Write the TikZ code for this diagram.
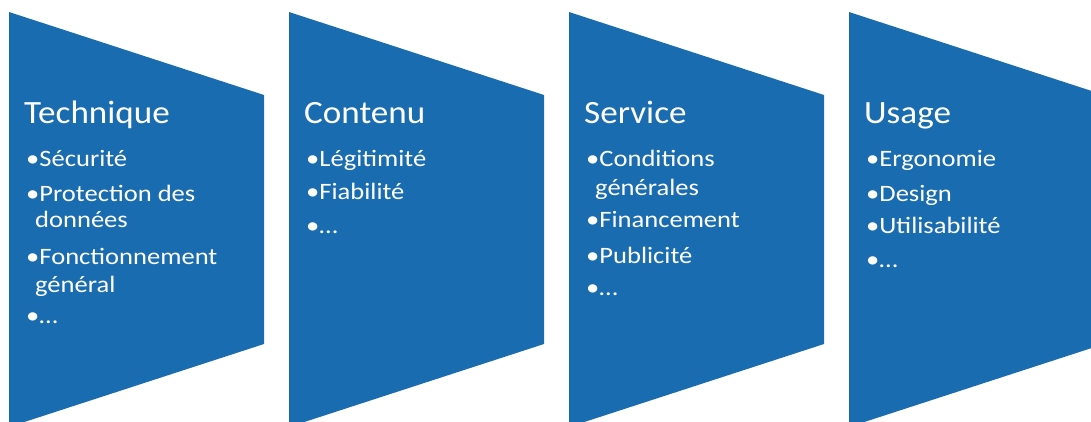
\documentclass[tikz,border=0pt]{standalone}
\usepackage{fontspec}
\setmainfont{Carlito}
\newfontfamily\ttlfont[FakeStretch=1.08]{Carlito}
\newfontfamily\itmfont[FakeStretch=1.13]{Carlito}
\definecolor{chevblue}{RGB}{26,108,176}
\tikzset{
  chev/.style={fill=chevblue, draw=none},
  ttl/.style={anchor=base west, inner sep=0pt, text=white, font=\ttlfont\fontsize{32.5}{38}\selectfont},
  itm/.style={anchor=base west, inner sep=0pt, text=white, font=\itmfont\fontsize{23.5}{28}\selectfont},
}
\begin{document}
\begin{tikzpicture}[x=1pt,y=-1pt]
\useasboundingbox (0,0) rectangle (1091,422);
\begin{scope}
\clip (0,0) rectangle (1091,422);
\foreach \i/\ox in {1/0,2/280,3/560,4/840}{
  \fill[chev] (9+\ox,12) -- (264+\ox,95) -- (264+\ox,344) -- (9+\ox,427) -- cycle;
}
\end{scope}
% Column 1
\node[ttl] (t1) at (24,124) {Technique};
\node[itm] (a1) at (26,167) {•Sécurité};
\node[itm] (a2) at (26,201) {•Protection des};
\node[itm] (a2b) at (35,227) {données};
\node[itm] (a3) at (26,264) {•Fonctionnement};
\node[itm] (a3b) at (35,292) {général};
\node[itm] (a4) at (26,323) {•…};
% Column 2
\node[ttl] (t2) at (304,124) {Contenu};
\node[itm] (b1) at (306,167) {•Légitimité};
\node[itm] (b2) at (306,200) {•Fiabilité};
\node[itm] (b3) at (306,233) {•…};
% Column 3
\node[ttl] (t3) at (584,124) {Service};
\node[itm] (c1) at (586,167) {•Conditions};
\node[itm] (c1b) at (595,196) {générales};
\node[itm] (c2) at (586,227) {•Financement};
\node[itm] (c3) at (586,263) {•Publicité};
\node[itm] (c4) at (586,295) {•…};
% Column 4
\node[ttl] (t4) at (864,124) {Usage};
\node[itm] (d1) at (866,167) {•Ergonomie};
\node[itm] (d2) at (866,201) {•Design};
\node[itm] (d3) at (866,233) {•Utilisabilité};
\node[itm] (d4) at (866,267) {•…};
\end{tikzpicture}
\end{document}
